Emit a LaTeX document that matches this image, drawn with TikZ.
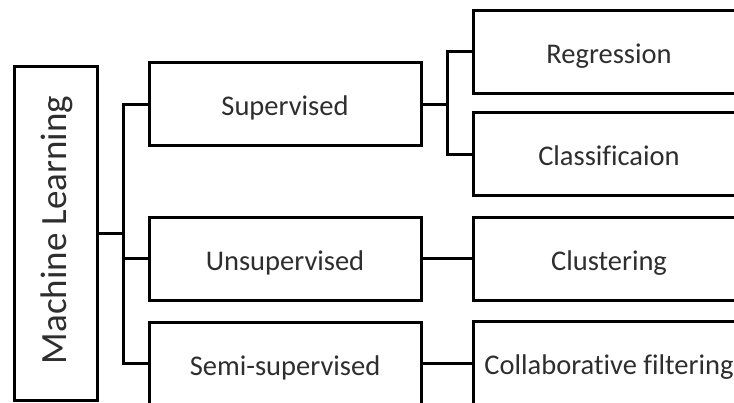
\documentclass[tikz,border=0pt]{standalone}
\usepackage{fontspec}
\setmainfont[Ligatures=NoCommon]{Carlito}
\begin{document}
\begin{tikzpicture}[x=1pt,y=1pt,
  box/.style={draw=black,line width=3pt,fill=white,rectangle,inner sep=0pt,
    minimum width=272pt,minimum height=83pt,text=black!82,
    text height=23pt,text depth=0pt,
    font=\fontsize{28.5}{33}\selectfont},
  link/.style={draw=black,line width=3pt,line join=miter}]
\useasboundingbox (0,0) rectangle (734,-402);
\clip (0,0) rectangle (734,-402);
\fill[white] (0,0) rectangle (734,-402);

% root
\node[draw=black,line width=3pt,fill=white,rectangle,inner sep=0pt,
  minimum width=83pt,minimum height=334pt] (ml) at (55.5,-233) {};
\node[rotate=90,text=black!82,font=\fontsize{37}{42}\selectfont] (mltext) at (57,-230) {Machine Learning};

% learning paradigms
\node[box] (sup)  at (285,-104)   {Supervised};
\node[box] (uns)  at (285,-258.5) {Unsupervised};
\node[box] (semi) at (285,-363.5) {Semi-supervised};

% tasks
\node[box] (reg)  at (609,-51.5)  {Regression};
\node[box] (cls)  at (609,-154)   {Classificaion};
\node[box] (clu)  at (609,-258.5) {Clustering};
\node[box] (col)  at (609,-363)   {Collaborative filtering};

% connectors
\coordinate (bus) at (123,-233);
\draw[link] (ml.east) -- (bus);
\draw[link] (bus) |- (sup.west);
\draw[link] (bus) |- (uns.west);
\draw[link] (bus) |- (semi.west);

\coordinate (sbus) at (447,-104);
\draw[link] (sup.east) -- (sbus);
\draw[link] (sbus) |- (reg.west);
\draw[link] (sbus) |- (cls.west);

\draw[link] (uns.east) -- (clu.west);
\draw[link] (semi.east) -- (semi.east -| col.west);
\end{tikzpicture}
\end{document}
